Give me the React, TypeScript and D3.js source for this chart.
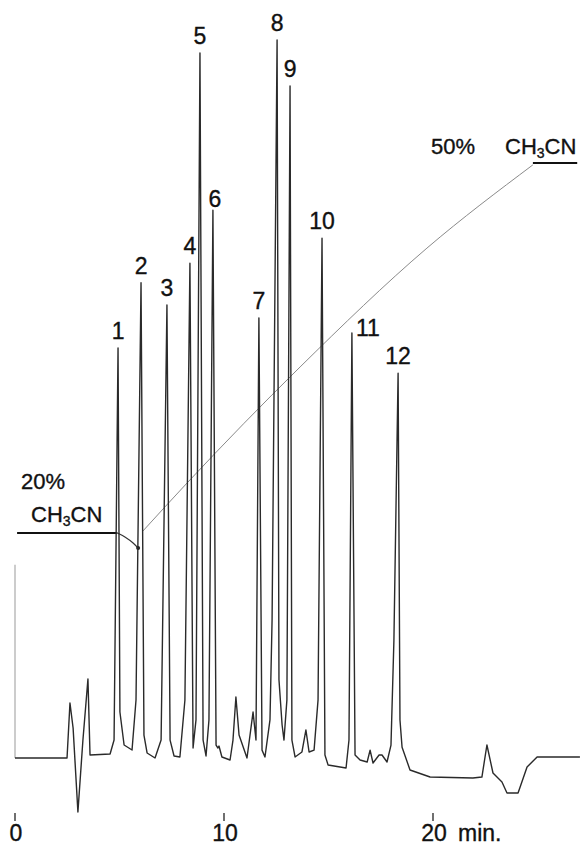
import React from "react";
import * as d3 from "d3";

// Peak numbering, retention time (min) and apex signal (relative units, 0 = baseline)
const peakIds = ["1", "2", "3", "4", "5", "6", "7", "8", "9", "10", "11", "12"];
const peakTimes = [4.93, 6.03, 7.27, 8.37, 8.85, 9.47, 11.67, 12.54, 13.16, 14.69, 16.12, 18.33];
const peakHeights = [57.1, 66.2, 63.1, 68.9, 98.2, 76.3, 61.3, 100, 93.6, 72.4, 59.2, 53.6];

// Injection marker at t = 0
const injectTimes = [0, 0];
const injectSignal = [26.9, 0];

// Detector trace between the numbered apexes: time (min) and signal
const traceTimes = [
  0, 2.49, 2.63, 2.78, 3.01, 3.25, 3.49, 3.59, 4.55, 4.74,
  5.02, 5.22, 5.6, 5.79,
  6.17, 6.32, 6.7, 6.99,
  7.42, 7.61, 7.89, 8.13,
  8.52, 8.66,
  9.0, 9.14, 9.28,
  9.62, 9.71, 9.76, 9.9, 10.29, 10.43, 10.57, 10.72, 11.1, 11.39, 11.53,
  11.82, 11.96, 12.2, 12.3,
  12.63, 12.78, 12.87, 13.01,
  13.25, 13.4, 13.73, 13.92, 14.07, 14.31, 14.5,
  14.83, 14.98, 15.84, 15.98,
  16.27, 16.51, 16.85, 16.99, 17.13, 17.42, 17.56, 17.8, 17.99, 18.13,
  18.42, 18.52, 18.9, 19.86, 21.91, 22.34, 22.58, 22.87, 23.3, 23.54, 24.07, 24.5, 24.98, 27.03,
];
const traceSignal = [
  0, 0, 7.66, 4.18, -7.52, 2.51, 11.0, 0.42, 0.56, 2.5,
  6.41, 1.81, 1.11, 8.08,
  3.2, 0.7, 0, 2.5,
  2.5, 0.28, 0.14, 8.08,
  1.39, 5.3,
  2.5, 0.28, 5.3,
  1.8, 1.39, 1.67, 0.14, -0.28, 2.5, 8.5, 3.2, 0, 6.4, 2.5,
  1.1, 0.14, 5.3, 19.2,
  10.9, 4.6, 2.5, 8.1,
  2.5, 0.14, 0.84, 3.9, 0.84, 1.1, 8.1,
  0.42, -0.97, -1.39, 2.5,
  0.42, -0.28, -0.56, 1.1, -0.7, 0.42, 0.42, -0.56, 1.8, 16.4,
  5.3, 1.5, -1.67, -2.65, -2.79, -2.65, 1.81, -2.09, -3.34, -4.87, -4.87, -1.25, 0.14, 0.14,
];

// Acetonitrile gradient programme: time (min) and % CH3CN
const gradStartTimes = [0.1, 4.9];
const gradStartPct = [20, 20];
const gradDipTimes = [4.9, 5.26, 5.65, 5.89];
const gradDipPct = [20, 19.68, 19.19, 18.78];
const gradRampTimes = [6.12, 8.23, 13.64, 19.71, 24.78];
const gradRampPct = [20.16, 24.05, 33.46, 43.1, 49.85];
const gradEndTimes = [24.78, 26.9];
const gradEndPct = [50, 50];

// Time axis ticks (min)
const xTicks = [0, 10, 20];

const FONT = "'Liberation Sans', Arial, sans-serif";

export default function App() {
  const W = 587;
  const H = 847;

  const x = d3.scaleLinear().domain([0, 20]).range([15, 433]);
  const y = d3.scaleLinear().domain([0, 100]).range([758, 40]);
  const yPct = d3.scaleLinear().domain([20, 50]).range([533, 163]);

  // merge trace vertices with the numbered apexes
  const pts: [number, number][] = traceTimes.map((t, i) => [t, traceSignal[i]]);
  peakTimes.forEach((t, i) => pts.push([t, peakHeights[i]]));
  const order = pts
    .map((p, i) => ({ p, i }))
    .sort((a, b) => (a.p[0] - b.p[0]) || (a.i - b.i))
    .map((d) => d.p);

  const line = d3
    .line<[number, number]>()
    .x((d) => x(d[0]))
    .y((d) => y(d[1]));

  const gLine = d3
    .line<[number, number]>()
    .x((d) => x(d[0]))
    .y((d) => yPct(d[1]))
    .curve(d3.curveMonotoneX);

  const gStraight = d3
    .line<[number, number]>()
    .x((d) => x(d[0]))
    .y((d) => yPct(d[1]));

  const zip = (a: number[], b: number[]) => a.map((v, i) => [v, b[i]] as [number, number]);

  // small label nudges (px) where a number sits beside its peak
  const nudge: Record<string, [number, number]> = {
    "6": [2, 6],
    "11": [16, 12],
  };

  const sub = (
    <>
      CH<tspan fontSize={14} dy={4}>3</tspan>
      <tspan dy={-4}>CN</tspan>
    </>
  );

  const textStyle = { stroke: "#111", strokeWidth: 0.35 };

  return (
    <svg
      width={W}
      height={H}
      viewBox={`0 0 ${W} ${H}`}
      style={{ position: "absolute", left: 0, top: 0, background: "#fff" }}
      fontFamily={FONT}
    >
      {/* gradient programme */}
      <path d={gStraight(zip(gradStartTimes, gradStartPct)) || ""} fill="none" stroke="#111" strokeWidth={2} />
      <path d={gLine(zip(gradDipTimes, gradDipPct)) || ""} fill="none" stroke="#333" strokeWidth={1.2} />
      <path d={gLine(zip(gradRampTimes, gradRampPct)) || ""} fill="none" stroke="#8a8a8a" strokeWidth={1} />
      <path d={gStraight(zip(gradEndTimes, gradEndPct)) || ""} fill="none" stroke="#111" strokeWidth={2} />
      <circle cx={x(gradDipTimes[3])} cy={yPct(gradDipPct[3])} r={2} fill="#222" />

      {/* injection marker */}
      <path d={line(zip(injectTimes, injectSignal)) || ""} fill="none" stroke="#aaa" strokeWidth={1.2} />

      {/* chromatogram trace */}
      <path d={line(order) || ""} fill="none" stroke="#2a2a2a" strokeWidth={1.4} strokeLinejoin="round" />

      {/* peak numbers */}
      {peakIds.map((id, i) => {
        const [dx, dy] = nudge[id] || [0, 0];
        return (
          <text
            key={id}
            x={x(peakTimes[i]) + dx}
            y={y(peakHeights[i]) - 9 + dy}
            textAnchor="middle"
            fontSize={23}
            fill="#111"
            style={textStyle}
          >
            {id}
          </text>
        );
      })}

      {/* gradient annotations */}
      <g fontSize={22} fill="#111" style={textStyle}>
        <text x={21} y={489}>20%</text>
        <text x={31} y={522}>{sub}</text>
        <text x={431} y={154}>50%</text>
        <text x={505} y={154}>{sub}</text>
      </g>

      {/* time axis */}
      {xTicks.map((t) => (
        <g key={t}>
          <line x1={x(t)} x2={x(t)} y1={813} y2={821} stroke="#222" strokeWidth={1.3} />
          <text x={x(t) + 1} y={841} textAnchor="middle" fontSize={23} fill="#111" style={textStyle}>{t}</text>
        </g>
      ))}
      <text x={458} y={841} fontSize={23} fill="#111" style={textStyle}>min.</text>
    </svg>
  );
}
